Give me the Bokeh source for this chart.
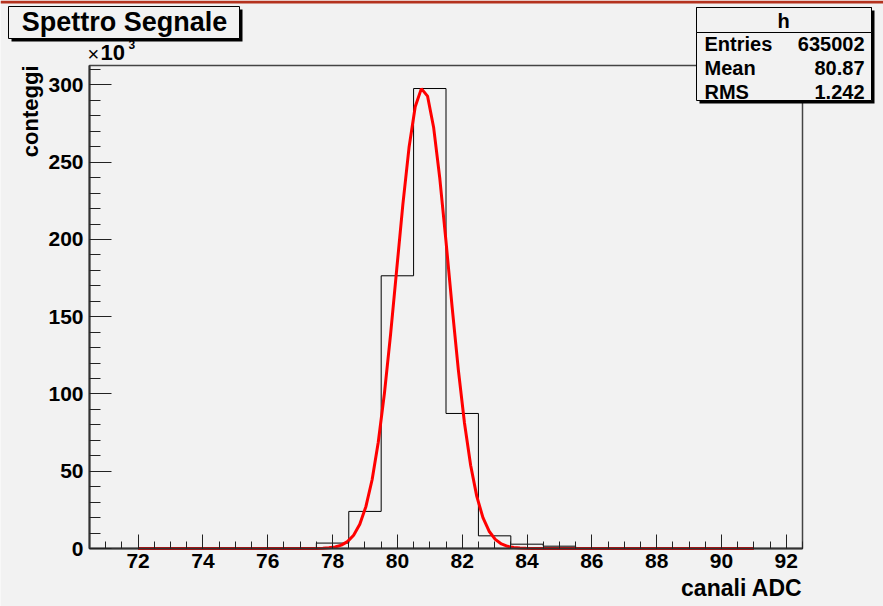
import numpy as np
from bokeh.plotting import figure
from bokeh.models import Range1d, SingleIntervalTicker, Label, BoxAnnotation
from bokeh.embed import file_html
from bokeh.resources import INLINE

# ---------------- data ----------------
bin_centers = list(range(71, 93))          # ADC channels, bin width 1
counts = [0, 0, 0, 0, 0, 0, 0,
          3500, 24000, 176500, 297700, 87400, 8200, 2800, 1500,
          0, 0, 0, 0, 0, 0, 0]
fit_amplitude = 298000
fit_mean = 80.78
fit_sigma = 0.80
fit_range = (72, 91)
stats_labels = ["Entries", "Mean", "RMS"]
stats_values = ["635002", "80.87", "1.242"]
title = "Spettro Segnale"
hist_name = "h"
x_title = "canali ADC"
y_title = "conteggi"

# ---------------- layout ----------------
W, H = 883, 606
FL, FR, FT, FB = 89, 802, 65, 548          # inner (ROOT) frame in canvas px
X0, X1 = 70.5, 92.5                          # histogram axis range
Y0, Y1 = 0.0, 312.6                          # y range in units of 10^3
BG = "#f2f2f2"
FONT = "Liberation Sans"

# the Bokeh frame covers the whole canvas; extend ranges so the axis area sits at FL..FR, FT..FB
kx = (X1 - X0) / (FR - FL)
ky = (Y1 - Y0) / (FB - FT)
x_range = Range1d(X0 - FL * kx, X1 + (W - FR) * kx)
y_range = Range1d(Y0 - (H - FB) * ky, Y1 + FT * ky)


p = figure(width=W, height=H, x_range=x_range, y_range=y_range,
           min_border=0, toolbar_location=None, output_backend="svg",
           background_fill_color=BG, border_fill_color=BG)
p.title.visible = False
p.grid.visible = False
p.outline_line_color = None

# inner frame box
p.add_layout(BoxAnnotation(left=X0, right=X1, bottom=Y0, top=Y1, fill_alpha=0,
                           line_color="#444444", line_width=1.5, line_alpha=1,
                           level="underlay"))

for ax, interval, nminor, tin, tmin, loc, bnd in (
        (p.xaxis[0], 2, 4, 14, 7, Y0, (X0, X1)),
        (p.yaxis[0], 50, 5, 22, 11, X0, (Y0, Y1))):
    ax.ticker = SingleIntervalTicker(interval=interval, num_minor_ticks=nminor)
    ax.fixed_location = loc
    ax.bounds = bnd
    ax.major_tick_in = tin
    ax.major_tick_out = 0
    ax.minor_tick_in = tmin
    ax.minor_tick_out = 0
    ax.axis_line_color = "#333333"
    ax.axis_line_width = 2
    ax.major_tick_line_color = "#222222"
    ax.minor_tick_line_color = "#222222"
    ax.major_label_text_font = FONT
    ax.major_label_text_font_style = "bold"
    ax.major_label_text_font_size = "21px"
    ax.major_label_text_color = "black"
p.xaxis.major_label_standoff = 5
p.yaxis.major_label_standoff = 6

# histogram as step outline
edges = [c - 0.5 for c in bin_centers] + [bin_centers[-1] + 0.5]
yk = [c / 1000.0 for c in counts]
p.step(x=edges, y=yk + [yk[-1]], mode="after", line_color="black", line_width=1)

# gaussian fit
xf = np.linspace(fit_range[0], fit_range[1], 101)
yf = fit_amplitude * np.exp(-0.5 * ((xf - fit_mean) / fit_sigma) ** 2) / 1000.0
p.line(xf, yf, line_color="#ff0000", line_width=3)


def box(l, t, r, b, fill, line=None, lw=1):
    p.add_layout(BoxAnnotation(left=l, right=r, top=H - t, bottom=H - b,
                               left_units="screen", right_units="screen",
                               top_units="screen", bottom_units="screen",
                               fill_color=fill, fill_alpha=1,
                               line_color=line, line_width=lw, line_alpha=1 if line else 0,
                               level="overlay"))


def label(px, py, text, size, align="left", angle=0, bold=True):
    # (px, py): baseline anchor in canvas px from top-left
    shift = 0.35 * size
    if angle:
        px -= shift
    else:
        py -= shift
    p.add_layout(Label(x=px, y=H - py, x_units="screen", y_units="screen",
                       text=text, text_font=FONT,
                       text_font_size=f"{size}px", text_font_style="bold" if bold else "normal",
                       text_align=align, text_baseline="alphabetic", angle=angle,
                       text_color="black", level="overlay"))


# red top bar
box(0, 0, W, 3, "#b4321e")

# title box with shadow
box(11, 9, 242, 41, "black")
box(8, 6, 239, 38, BG, "black")
label(124, 31, title, 27, align="center")

# stats box
box(699, 10, 874, 103, "black")
box(696, 7, 871, 100, BG, "black")
box(696, 7, 871, 32, BG, "black")
label(783, 27, hist_name, 20, align="center")
for i, (lab, val) in enumerate(zip(stats_labels, stats_values)):
    yb = 50 + i * 24
    label(704, yb, lab, 20)
    label(864, yb, val, 20, align="right")

# axis titles
label(FR, 596, x_title, 23, align="right")
label(38, 65, y_title, 22, align="right", angle=np.pi / 2)

# exponent  x10^3
label(87, 60, "\u00d7", 20, bold=False)
label(100, 60, "10", 22)
label(128, 48, "3", 12)

open("out.html", "w").write(file_html(p, INLINE))
